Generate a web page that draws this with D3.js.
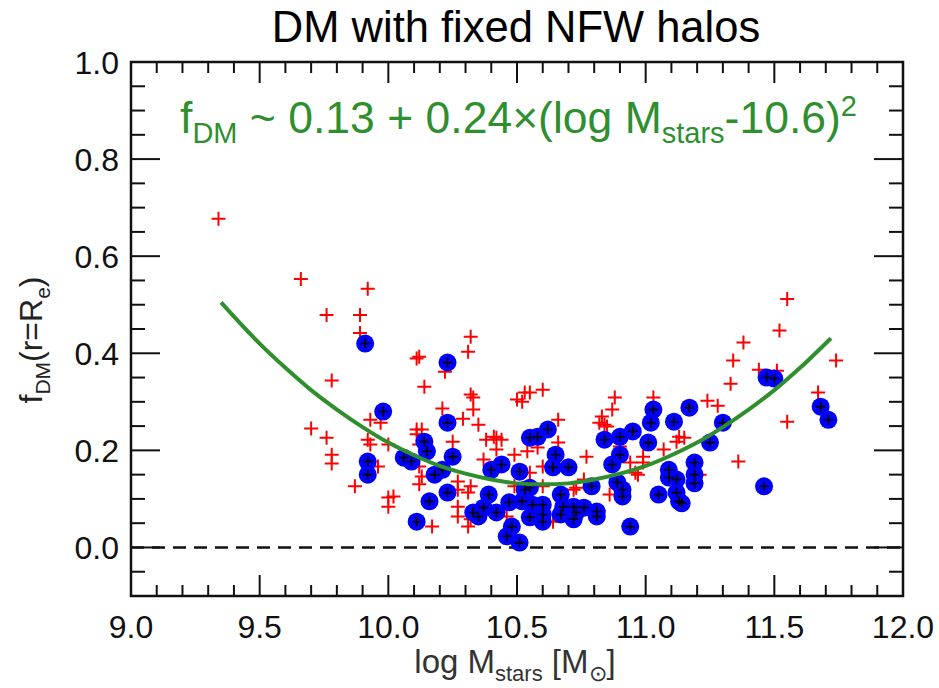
<!DOCTYPE html>
<html><head><meta charset="utf-8">
<script src="https://cdn.jsdelivr.net/npm/d3@7"></script>
<style>body{margin:0;background:#fff}svg{display:block}text{font-family:"Liberation Sans",Arial,sans-serif}</style>
</head><body>
<svg id="c" width="939" height="688"></svg>
<script>
// ---- data (log Mstars, fDM) ----
const redCrosses = [
[9.34,0.677],[9.66,0.553],[9.92,0.533],[9.76,0.479],[9.89,0.479],[9.89,0.442],[10.11,0.389],[10.12,0.393],
[10.22,0.362],[10.32,0.434],[10.31,0.403],[10.14,0.331],[9.78,0.344],[10.32,0.315],[9.70,0.245],[9.76,0.226],
[9.78,0.191],[9.78,0.173],[9.93,0.263],[9.97,0.257],[9.92,0.222],[9.93,0.212],[9.96,0.167],[9.87,0.126],
[10.00,0.212],[10.00,0.103],[10.00,0.084],[10.02,0.105],[10.12,0.167],[10.11,0.243],[10.13,0.243],[10.11,0.233],
[10.21,0.286],[10.29,0.265],[10.33,0.309],[10.33,0.284],[10.35,0.253],[10.12,0.212],[10.25,0.218],[10.27,0.136],
[10.27,0.119],[10.12,0.130],[10.13,0.146],[10.17,0.043],[10.27,0.084],[10.27,0.064],[10.31,0.113],[10.32,0.126],
[10.32,0.058],[10.31,0.043],[10.37,0.181],[10.38,0.222],[10.41,0.228],[10.42,0.226],[10.44,0.222],[10.42,0.202],
[10.49,0.191],[10.50,0.305],[10.52,0.300],[10.53,0.319],[10.55,0.319],[10.60,0.325],[10.66,0.263],[10.66,0.216],
[10.58,0.206],[10.54,0.198],[10.55,0.154],[10.60,0.167],[10.49,0.126],[10.45,0.078],[10.46,0.064],[10.72,0.119],
[10.76,0.140],[10.60,0.126],[10.73,0.123],[10.64,0.053],[10.77,0.187],[10.82,0.257],[10.84,0.253],[10.83,0.270],
[10.88,0.309],[10.87,0.284],[10.85,0.249],[10.90,0.208],[10.94,0.175],[10.99,0.187],[10.99,0.175],[10.96,0.154],
[11.07,0.202],[10.86,0.109],[10.97,0.150],[11.03,0.309],[11.55,0.512],[11.52,0.447],[11.38,0.422],[11.34,0.385],
[11.33,0.337],[11.74,0.385],[11.67,0.319],[11.44,0.366],[11.51,0.364],[11.55,0.259],[11.36,0.177],[11.24,0.302],
[11.28,0.292],[11.13,0.228],[11.15,0.226],[11.12,0.218],[11.21,0.150]
];
const blueCircles = [
[9.91,0.420],[10.23,0.381],[9.98,0.280],[9.92,0.177],[9.92,0.150],[10.06,0.185],[10.09,0.177],[10.23,0.257],
[10.14,0.218],[10.15,0.198],[10.25,0.187],[10.18,0.150],[10.21,0.160],[10.23,0.113],[10.16,0.095],[10.11,0.053],
[10.33,0.072],[10.37,0.082],[10.39,0.109],[10.42,0.072],[10.35,0.064],[10.40,0.160],[10.44,0.171],[10.51,0.156],
[10.55,0.226],[10.58,0.228],[10.62,0.243],[10.65,0.191],[10.64,0.165],[10.70,0.165],[10.47,0.093],[10.52,0.095],
[10.56,0.088],[10.53,0.119],[10.55,0.123],[10.48,0.043],[10.46,0.023],[10.51,0.010],[10.55,0.062],[10.60,0.068],
[10.60,0.088],[10.60,0.053],[10.67,0.109],[10.68,0.084],[10.67,0.068],[10.72,0.084],[10.73,0.072],[10.72,0.058],
[10.76,0.082],[10.79,0.126],[10.81,0.074],[10.81,0.064],[10.84,0.222],[10.90,0.228],[10.90,0.191],[10.87,0.171],
[10.89,0.134],[10.91,0.119],[10.91,0.105],[10.94,0.043],[10.95,0.239],[11.03,0.284],[11.02,0.257],[11.01,0.216],
[11.09,0.160],[11.09,0.144],[11.05,0.109],[11.12,0.140],[11.12,0.113],[11.13,0.095],[11.14,0.091],[11.19,0.175],
[11.19,0.150],[11.19,0.132],[11.17,0.288],[11.11,0.259],[11.25,0.216],[11.30,0.257],[11.47,0.350],[11.50,0.348],
[11.68,0.290],[11.71,0.263],[11.46,0.126]
];
// fit curve
const fitX = [9.35,9.5,9.6,9.7,9.8,9.9,10.0,10.1,10.2,10.3,10.4,10.5,10.6,10.7,10.8,10.9,11.0,11.1,11.2,11.3,11.4,11.5,11.6,11.72];
const fitY = [0.505,0.42,0.37,0.324,0.284,0.248,0.216,0.19,0.168,0.152,0.14,0.132,0.13,0.132,0.14,0.152,0.168,0.19,0.216,0.248,0.284,0.324,0.37,0.431];
const xTicks = [9.0,9.5,10.0,10.5,11.0,11.5,12.0];
const yTicks = [0.0,0.2,0.4,0.6,0.8,1.0];

const svg = d3.select("#c");
const L=131,R=903,T=62,B=596;
const x = d3.scaleLinear().domain([9,12]).range([L,R]);
const y = d3.scaleLinear().domain([-0.1,1.0]).range([B,T]);
const green = "#2f8f2f";

// title
svg.append("text").attr("x",516).attr("y",42).attr("text-anchor","middle")
  .attr("font-size",43.5).attr("fill","#000").text("DM with fixed NFW halos");

// dashed zero line
svg.append("line").attr("x1",x(9)).attr("x2",x(12)).attr("y1",y(0)).attr("y2",y(0))
  .attr("stroke","#111").attr("stroke-width",2.5).attr("stroke-dasharray","13,8");

// red crosses
const arm=7;
const rc = svg.append("g").attr("stroke","#ff0000").attr("stroke-width",2);
redCrosses.forEach(d=>{
  const cx=x(d[0]), cy=y(d[1]);
  rc.append("path").attr("d",`M${cx-arm},${cy}H${cx+arm}M${cx},${cy-arm}V${cy+arm}`);
});
// blue circles
svg.append("g").selectAll("circle").data(blueCircles).join("circle")
  .attr("cx",d=>x(d[0])).attr("cy",d=>y(d[1])).attr("r",9).attr("fill","#0000ff");
// black crosses
const bc = svg.append("g").attr("stroke","#000").attr("stroke-width",1.6);
blueCircles.forEach(d=>{
  const cx=x(d[0]), cy=y(d[1]), a=5;
  bc.append("path").attr("d",`M${cx-a},${cy}H${cx+a}M${cx},${cy-a}V${cy+a}`);
});

// fit curve
const fit = fitX.map((v,i)=>[v,fitY[i]]);
svg.append("path").datum(fit)
  .attr("d",d3.line().x(d=>x(d[0])).y(d=>y(d[1])).curve(d3.curveMonotoneX))
  .attr("fill","none").attr("stroke",green).attr("stroke-width",4);

// axes frame + ticks
const ax = svg.append("g").attr("stroke","#111").attr("stroke-width",2);
const xMinor = d3.range(9.0,12.001,0.1).map(v=>+v.toFixed(2));
xMinor.forEach(v=>{
  const major = xTicks.some(t=>Math.abs(t-v)<1e-6);
  const len = major?21:11;
  ax.append("line").attr("x1",x(v)).attr("x2",x(v)).attr("y1",B).attr("y2",B-len);
  ax.append("line").attr("x1",x(v)).attr("x2",x(v)).attr("y1",T).attr("y2",T+len);
});
const yMinor = d3.range(-0.1,1.0001,0.05).map(v=>+v.toFixed(3));
yMinor.forEach(v=>{
  const major = yTicks.some(t=>Math.abs(t-v)<1e-6);
  const len = major?29:14;
  ax.append("line").attr("y1",y(v)).attr("y2",y(v)).attr("x1",L).attr("x2",L+len);
  ax.append("line").attr("y1",y(v)).attr("y2",y(v)).attr("x1",R).attr("x2",R-len);
});
svg.append("rect").attr("x",L).attr("y",T).attr("width",R-L).attr("height",B-T)
  .attr("fill","none").attr("stroke","#111").attr("stroke-width",2.5);

// tick labels
svg.append("g").selectAll("text").data(xTicks).join("text")
  .attr("x",d=>x(d)).attr("y",638).attr("text-anchor","middle").attr("font-size",32)
  .attr("fill","#111").text(d=>d.toFixed(1));
svg.append("g").selectAll("text").data(yTicks).join("text")
  .attr("x",119).attr("y",d=>y(d)+11.5).attr("text-anchor","end").attr("font-size",32)
  .attr("fill","#111").text(d=>d.toFixed(1));

// formula
const f = svg.append("text").attr("x",180).attr("y",133).attr("fill",green).attr("font-size",44.5);
f.append("tspan").text("f");
f.append("tspan").attr("font-size",29).attr("dy",10).text("DM");
f.append("tspan").attr("dy",-10).text(" ~ 0.13 + 0.24\u00d7(log M");
f.append("tspan").attr("font-size",29).attr("dy",10).text("stars");
f.append("tspan").attr("dy",-10).text("-10.6)");
f.append("tspan").attr("font-size",29).attr("dy",-17).text("2");

// x axis title
const xl = svg.append("text").attr("x",515).attr("y",673).attr("text-anchor","middle")
  .attr("fill","#333").attr("font-size",33);
xl.append("tspan").text("log M");
xl.append("tspan").attr("font-size",22).attr("dy",8).text("stars");
xl.append("tspan").attr("dy",-8).text(" [M");
xl.append("tspan").attr("font-size",22).attr("dy",8).text("\u2299");
xl.append("tspan").attr("dy",-8).text("]");

// y axis title
const yl = svg.append("text").attr("transform","translate(42,340) rotate(-90)").attr("text-anchor","middle")
  .attr("fill","#222").attr("font-size",32);
yl.append("tspan").text("f");
yl.append("tspan").attr("font-size",21).attr("dy",8).text("DM");
yl.append("tspan").attr("dy",-8).text("(r=R");
yl.append("tspan").attr("font-size",21).attr("dy",8).text("e");
yl.append("tspan").attr("dy",-8).text(")");
</script>
</body></html>
